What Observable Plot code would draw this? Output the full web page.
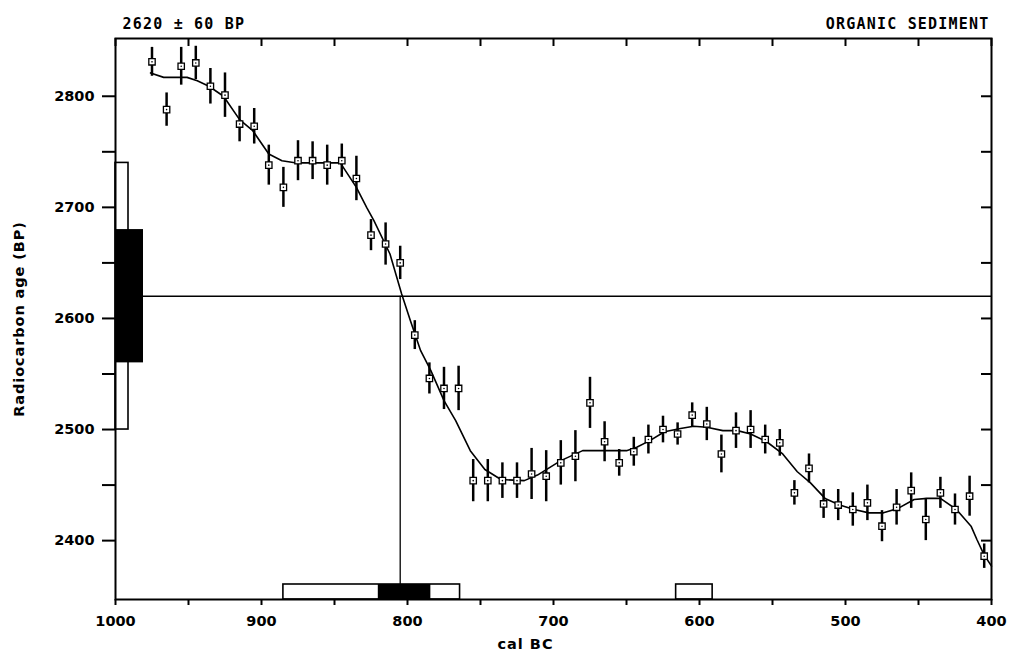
<!DOCTYPE html>
<html><head><meta charset="utf-8">
<script src="https://cdn.jsdelivr.net/npm/d3@7"></script>
<script src="https://cdn.jsdelivr.net/npm/@observablehq/plot@0.6"></script>
<style>
body{margin:0;background:#fff;}
</style></head><body><div id="chart"></div>
<script>
// Measured radiocarbon ages of the calibration data (decadal samples)
const calBC = [975,965,955,945,935,925,915,905,895,885,875,865,855,845,835,825,815,805,795,785,775,765,755,745,735,725,715,705,695,685,675,665,655,645,635,625,615,605,595,585,575,565,555,545,535,525,515,505,495,485,475,465,455,445,435,425,415,405];
const bp = [2831,2788,2827,2830,2809,2801,2775,2773,2738,2718,2742,2742,2738,2742,2726,2675,2667,2650,2585,2546,2537,2537,2454,2454,2454,2454,2460,2458,2470,2476,2524,2489,2470,2480,2491,2500,2496,2513,2505,2478,2499,2500,2491,2488,2443,2465,2433,2432,2428,2434,2413,2430,2445,2419,2443,2428,2440,2386];
const err = [13,15,17,15,16,20,16,16,18,18,18,17,18,15,20,14,19,15,13,14,19,20,19,19,16,16,23,23,20,23,23,18,12,13,13,12,10,11,15,17,16,17,13,12,11,13,13,14,15,16,14,16,16,19,14,14,18,11];
// Smoothed calibration curve
const curveCal = [976,967,951,944,936,926,915,906,895,886,876,846,835,828,823,812,804,798,791,784,775,767,757,747,736,720,711,695,680,666,650,643,634,624,613,604,595,584,574,565,554,543,533,524,514,504,494,484,474,464,453,444,435,424,414,410,405,400];
const curveBP = [2821,2817,2817,2814,2809,2800,2779,2769,2748,2742,2740,2740,2718,2700,2688,2658,2622,2598,2571,2553,2526,2508,2481,2464,2455,2454,2459,2472,2481,2481,2481,2484,2490,2498,2501,2503,2502,2499,2499,2496,2489,2478,2462,2452,2438,2432,2428,2425,2425,2429,2437,2438,2438,2428,2413,2401,2387,2377];
// Sample date
const sampleBP = [2620];
const sampleSigma = [60];
const interceptCal = [805];
const range1SigmaFrom = [820];
const range1SigmaTo = [784];
const range2SigmaFrom = [885, 616];
const range2SigmaTo = [764, 591];
// Axes
const xTicks = [1000,950,900,850,800,750,700,650,600,550,500,450,400];
const yTicks = [2400,2450,2500,2550,2600,2650,2700,2750,2800];
const xDomain = [1000, 400];
const yDomain = [2347, 2852];
const titleLeft = "2620 ± 60 BP";
const titleRight = "ORGANIC SEDIMENT";
const xLabel = "cal BC";
const yLabel = "Radiocarbon age (BP)";

const points = calBC.map((c, i) => ({cal: c, bp: bp[i], err: err[i]}));
const curve = curveCal.map((c, i) => ({cal: c, bp: curveBP[i]}));
const sample = sampleBP.map((b, i) => ({lo1: b - sampleSigma[i], hi1: b + sampleSigma[i], lo2: b - 2 * sampleSigma[i], hi2: b + 2 * sampleSigma[i]}));
const r2 = range2SigmaFrom.map((a, i) => ({a, b: range2SigmaTo[i]}));
const r1 = range1SigmaFrom.map((a, i) => ({a, b: range1SigmaTo[i]}));

const W = 1011, H = 652, mL = 115, mR = 20, mT = 38, mB = 53;
const fw = W - mL - mR, fh = H - mT - mB;
const titleStyle = {fontFamily: "DejaVu Sans Mono", fontWeight: "bold", fontSize: 15};
const labelFont = {fontFamily: "DejaVu Sans", fontWeight: "bold", fontSize: 14.5};

const chart = Plot.plot({
  width: W, height: H, marginLeft: mL, marginRight: mR, marginTop: mT, marginBottom: mB,
  style: {fontFamily: "DejaVu Sans", fontSize: "14.5px", fontWeight: "bold", background: "white", color: "black"},
  x: {domain: xDomain},
  y: {domain: yDomain},
  marks: [
    Plot.rect(sample, {y1: "lo2", y2: "hi2", fill: "white", stroke: "black", strokeWidth: 1.6, insetRight: fw - 13}),
    Plot.rect(sample, {y1: "lo1", y2: "hi1", fill: "black", insetRight: fw - 28}),
    Plot.rect(r2, {x1: "a", x2: "b", fill: "white", stroke: "black", strokeWidth: 1.6, insetTop: fh - 15}),
    Plot.rect(r1, {x1: "a", x2: "b", fill: "black", insetTop: fh - 15}),
    Plot.ruleY(sampleBP, {insetLeft: 28, strokeWidth: 1.3}),
    Plot.ruleX(interceptCal, {y1: sampleBP[0], y2: yDomain[0], strokeWidth: 1.3}),
    Plot.line(curve, {x: "cal", y: "bp", strokeWidth: 1.6}),
    Plot.ruleX(points, {x: "cal", y1: d => d.bp - d.err, y2: d => d.bp + d.err, strokeWidth: 2.5}),
    Plot.dot(points, {x: "cal", y: "bp", symbol: "square", r: 3.6, fill: "white", stroke: "black", strokeWidth: 1.3}),
    Plot.dot(points, {x: "cal", y: "bp", r: 0.8, fill: "black"}),
    Plot.frame({strokeWidth: 2}),
    Plot.axisX({ticks: xTicks, tickFormat: d => d % 100 === 0 ? String(d) : "", tickSize: 6, tickPadding: 10, strokeWidth: 2, label: null, ...labelFont}),
    Plot.axisY({ticks: yTicks, tickFormat: d => d % 100 === 0 ? String(d) : "", tickSize: 13, tickPadding: 8, strokeWidth: 2,
      label: yLabel, labelAnchor: "center", labelOffset: 102, labelArrow: "none", ...labelFont}),
    Plot.tickX(xTicks, {insetBottom: fh - 8, strokeWidth: 2}),
    Plot.tickY(yTicks, {insetLeft: fw - 10, strokeWidth: 2}),
    Plot.text([titleLeft], {frameAnchor: "top-left", textAnchor: "start", lineAnchor: "bottom", dx: 7, dy: -10, ...titleStyle}),
    Plot.text([titleRight], {frameAnchor: "top-right", textAnchor: "end", lineAnchor: "bottom", dx: -2, dy: -10, ...titleStyle}),
    Plot.text([xLabel], {frameAnchor: "bottom", lineAnchor: "bottom", dx: -28, dy: 49, ...labelFont})
  ]
});
chart.querySelectorAll("text").forEach(t => {
  const s = t.textContent;
  if (s === titleLeft || s === titleRight) t.style.letterSpacing = "1.2px";
  if (s === yLabel) t.style.letterSpacing = "0.9px";
  if (s === xLabel) t.style.letterSpacing = "1px";
});
document.getElementById("chart").appendChild(chart);
</script></body></html>
